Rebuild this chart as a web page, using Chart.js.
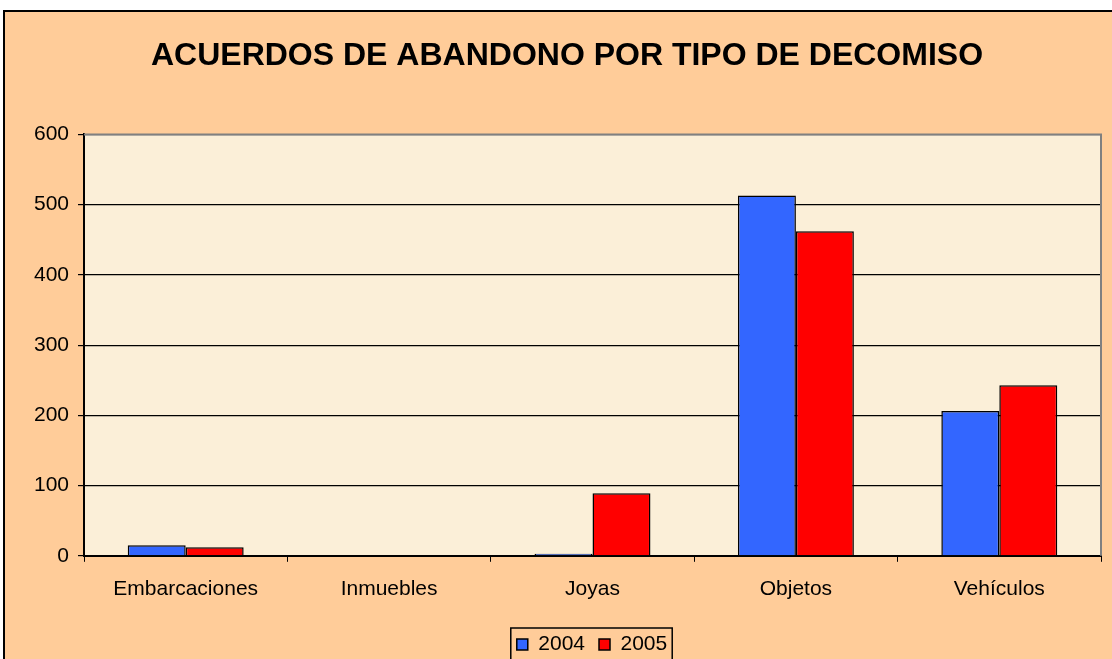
<!DOCTYPE html>
<html lang="es">
<head>
  <meta charset="UTF-8" />
  <title>Acuerdos de abandono por tipo de decomiso</title>
  <script src="https://cdn.jsdelivr.net/npm/chart.js"></script>
  <style>
    html, body {
      margin: 0;
      padding: 0;
      width: 1112px;
      height: 659px;
      overflow: hidden;
      background: #ffffff;
    }

    #frame {
      position: absolute;
      left: 3px;
      top: 10px;
      width: 1140px;
      height: 700px;
      background: #ffcc99;
      border-left: 2px solid #000;
      border-top: 2px solid #000;
    }

    #chart {
      position: absolute;
      left: 3px;
      top: 0;
    }
  </style>
</head>
<body>
  <div id="frame"></div>
  <canvas id="chart" width="1130" height="690"></canvas>

  <script>
    const categories = ['Embarcaciones', 'Inmuebles', 'Joyas', 'Objetos', 'Vehículos'];
    const values2004 = [15, 0, 3, 513, 206];
    const values2005 = [12, 0, 89, 462, 243];
    const seriesNames = ['2004', '2005'];
    const yTicks = [0, 100, 200, 300, 400, 500, 600];

    const FONT = "'Liberation Sans', Arial, sans-serif";
    const LEGEND_SHIFT_X = 25;
    const LEGEND_SHIFT_Y = 3;

    // fondo del área de trazado + borde gris arriba/derecha
    const plotBg = {
      id: 'plotBg',
      beforeDraw(chart) {
        const { ctx, chartArea: a } = chart;
        ctx.save();
        ctx.fillStyle = '#fbefd8';
        ctx.fillRect(a.left, a.top, a.right - a.left, a.bottom - a.top);
        ctx.restore();
      },
      beforeDatasetsDraw(chart) {
        const { ctx, chartArea: a } = chart;
        ctx.save();
        ctx.strokeStyle = '#808080';
        ctx.lineWidth = 2;
        ctx.beginPath();
        ctx.moveTo(a.left, a.top);
        ctx.lineTo(a.right, a.top);
        ctx.lineTo(a.right, a.bottom);
        ctx.stroke();
        ctx.restore();
      }
    };

    // la leyenda va un poco a la derecha, con recuadro negro
    const legendBox = {
      id: 'legendBox',
      afterUpdate(chart) {
        const lg = chart.legend;
        lg.left += LEGEND_SHIFT_X;
        lg.right += LEGEND_SHIFT_X;
        lg.top += LEGEND_SHIFT_Y;
        lg.bottom += LEGEND_SHIFT_Y;
        (lg.legendHitBoxes || []).forEach(b => {
          b.left += LEGEND_SHIFT_X;
          b.top += LEGEND_SHIFT_Y;
        });
      },
      afterDraw(chart) {
        const boxes = chart.legend.legendHitBoxes;
        if (!boxes || !boxes.length) return;
        const left = Math.min(...boxes.map(b => b.left)) - 6;
        const right = Math.max(...boxes.map(b => b.left + b.width)) + 5;
        const top = Math.min(...boxes.map(b => b.top)) - 6;
        const bottom = Math.max(...boxes.map(b => b.top + b.height)) + 8;
        const ctx = chart.ctx;
        ctx.save();
        ctx.strokeStyle = '#000';
        ctx.lineWidth = 1.5;
        ctx.strokeRect(left, top, right - left, bottom - top);
        ctx.restore();
      }
    };

    new Chart(document.getElementById('chart'), {
      type: 'bar',
      data: {
        labels: categories,
        datasets: [{
          label: seriesNames[0],
          data: values2004,
          backgroundColor: '#3366ff',
          borderColor: '#000',
          borderWidth: 1.5
        }, {
          label: seriesNames[1],
          data: values2005,
          backgroundColor: '#ff0000',
          borderColor: '#000',
          borderWidth: 1.5
        }]
      },
      options: {
        responsive: false,
        animation: false,
        layout: { padding: { left: 30, right: 32, top: 0, bottom: 28 } },
        categoryPercentage: 0.57,
        barPercentage: 1,
        plugins: {
          title: {
            display: true,
            text: 'ACUERDOS DE ABANDONO POR TIPO DE DECOMISO',
            color: '#000',
            font: { family: FONT, size: 32, weight: 'bold' },
            padding: { top: 37, bottom: 59 }
          },
          legend: {
            position: 'bottom',
            labels: {
              color: '#000',
              font: { family: FONT, size: 21 },
              boxWidth: 11,
              boxHeight: 11,
              padding: 14
            }
          },
          tooltip: { enabled: false }
        },
        scales: {
          x: {
            grid: {
              offset: true,
              drawOnChartArea: false,
              color: '#000',
              tickLength: 6
            },
            border: { color: '#000', width: 2 },
            ticks: {
              color: '#000',
              font: { family: FONT, size: 21 },
              padding: 15,
              maxRotation: 0
            }
          },
          y: {
            min: 0,
            max: 600,
            afterBuildTicks(scale) {
              scale.ticks = yTicks.map(v => ({ value: v }));
            },
            afterFit(scale) {
              scale.width = 51;
            },
            grid: {
              color: ctx => (ctx.tick && ctx.tick.value === 600) ? '#808080' : '#000',
              tickColor: '#000',
              lineWidth: 1.2,
              tickLength: 6
            },
            border: { color: '#000', width: 2 },
            ticks: {
              color: '#000',
              font: { family: FONT, size: 21 },
              padding: 9
            }
          }
        }
      },
      plugins: [plotBg, legendBox]
    });
  </script>
</body>
</html>
